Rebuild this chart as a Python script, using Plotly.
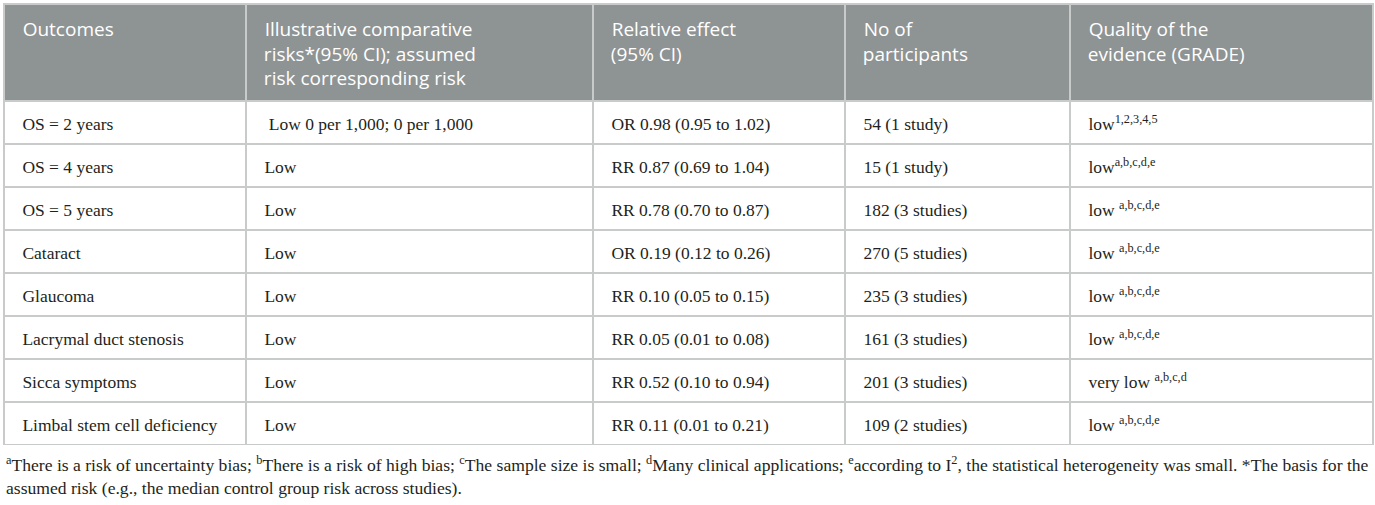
import plotly.graph_objects as go

# table content
HEADERS = [
    "Outcomes",
    "Illustrative comparative<br>risks*(95% CI); assumed<br>risk corresponding risk",
    "Relative effect<br>(95% CI)",
    "No of<br>participants",
    "Quality of the<br>evidence (GRADE)",
]
outcomes = [
    "OS = 2 years",
    "OS = 4 years",
    "OS = 5 years",
    "Cataract",
    "Glaucoma",
    "Lacrymal duct stenosis",
    "Sicca symptoms",
    "Limbal stem cell deficiency",
]
risks = [" Low 0 per 1,000; 0 per 1,000"] + ["Low"] * 7
effects = [
    "OR 0.98 (0.95 to 1.02)",
    "RR 0.87 (0.69 to 1.04)",
    "RR 0.78 (0.70 to 0.87)",
    "OR 0.19 (0.12 to 0.26)",
    "RR 0.10 (0.05 to 0.15)",
    "RR 0.05 (0.01 to 0.08)",
    "RR 0.52 (0.10 to 0.94)",
    "RR 0.11 (0.01 to 0.21)",
]
participants = [
    "54 (1 study)",
    "15 (1 study)",
    "182 (3 studies)",
    "270 (5 studies)",
    "235 (3 studies)",
    "161 (3 studies)",
    "201 (3 studies)",
    "109 (2 studies)",
]
quality = [
    "low<sup>1,2,3,4,5</sup>",
    "low<sup>a,b,c,d,e</sup>",
    "low <sup>a,b,c,d,e</sup>",
    "low <sup>a,b,c,d,e</sup>",
    "low <sup>a,b,c,d,e</sup>",
    "low <sup>a,b,c,d,e</sup>",
    "very low <sup>a,b,c,d</sup>",
    "low <sup>a,b,c,d,e</sup>",
]
FOOTNOTE = (
    "<sup>a</sup>There is a risk of uncertainty bias; <sup>b</sup>There is a risk of high bias; "
    "<sup>c</sup>The sample size is small; <sup>d</sup>Many clinical applications; "
    "<sup>e</sup>according to I<sup>2</sup>, the statistical heterogeneity was small. "
    "*The basis for the<br>assumed risk (e.g., the median control group risk across studies)."
)

LINE = "#c9cbcb"
HEAD_FILL = "#8e9394"
# a taller blank at the start of a cell nudges its text down and right
HEAD_LEAD = "<span style='font-size:22px'>&nbsp;</span> "
BODY_LEAD = "<span style='font-size:24px'>&nbsp;</span> "


def head(txt):
    lines = txt.split("<br>")
    out = HEAD_LEAD + lines[0]
    for ln in lines[1:]:
        out += "<br>  " + ln
    return out if len(lines) > 1 else out + "<br> "


def body(col):
    return [BODY_LEAD + v + "<br>" for v in col]


fig = go.Figure(
    go.Table(
        columnwidth=[242, 347, 252, 225, 303],
        header=dict(
            values=[head(h) for h in HEADERS],
            fill_color=HEAD_FILL,
            line_color=LINE,
            line_width=1.5,
            align="left",
            height=97,
            font=dict(family="Open Sans", size=19, color="white"),
        ),
        cells=dict(
            values=[body(c) for c in [outcomes, risks, effects, participants, quality]],
            fill_color="white",
            line_color=LINE,
            line_width=1.5,
            align="left",
            height=43,
            font=dict(family="Liberation Serif", size=17.5, color="#231f20"),
        ),
    )
)

fig.add_annotation(
    text=FOOTNOTE,
    xref="paper",
    yref="paper",
    x=0,
    y=-0.014,
    xanchor="left",
    yanchor="top",
    align="left",
    showarrow=False,
    font=dict(family="Liberation Serif", size=17.6, color="#231f20"),
)

fig.update_layout(
    width=1375,
    height=505,
    margin=dict(l=4, r=2, t=4, b=60),
    paper_bgcolor="white",
)

fig.write_html(
    "out.html",
    config={"displayModeBar": False},
    post_script="document.body.style.margin='0px';",
)
